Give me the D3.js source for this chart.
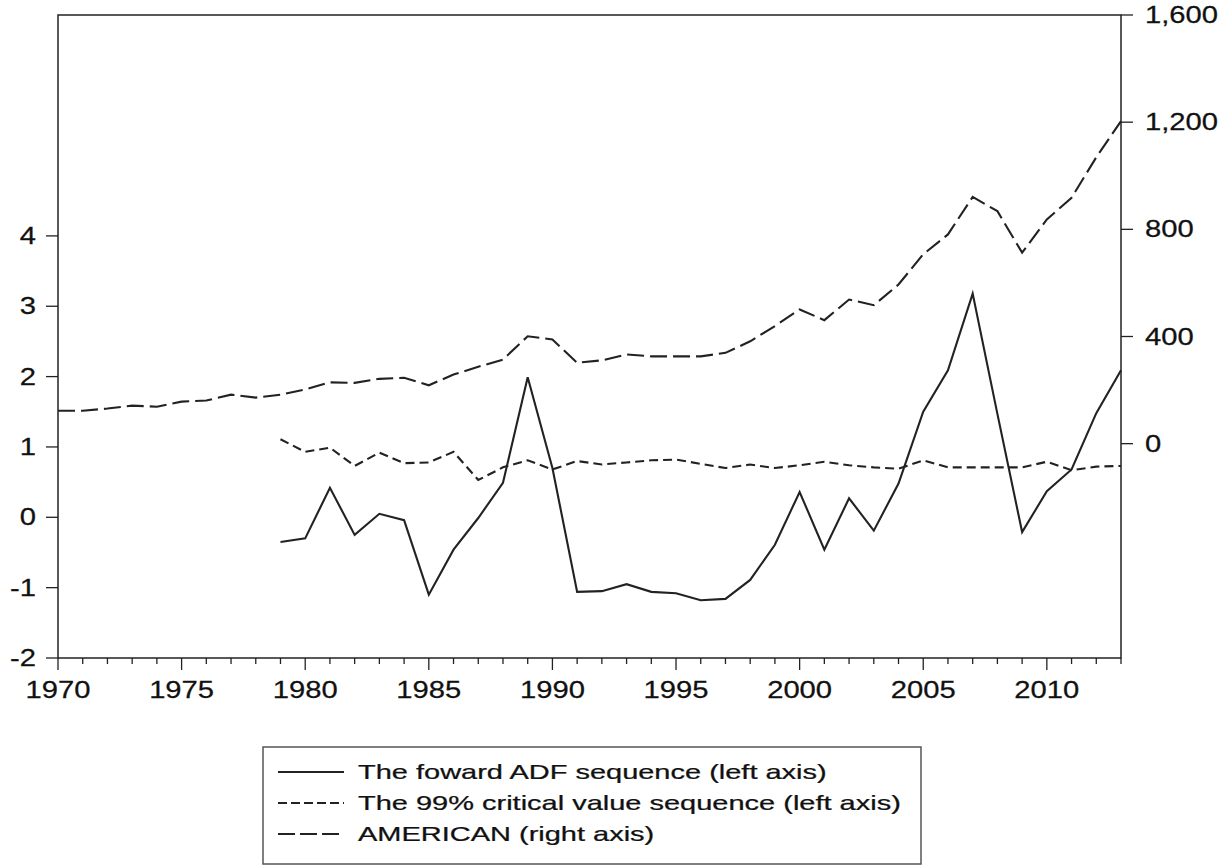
<!DOCTYPE html>
<html><head><meta charset="utf-8">
<script src="https://cdn.jsdelivr.net/npm/d3@7"></script>
<style>body{margin:0;background:#fff}text{font-family:"Liberation Sans",Arial,Helvetica,sans-serif;fill:#111;stroke:#111;stroke-width:0.25px}</style>
</head><body><svg id="c" width="1228" height="865"></svg>
<script>
const years = [1970,1971,1972,1973,1974,1975,1976,1977,1978,1979,1980,1981,1982,1983,1984,1985,1986,1987,1988,1989,1990,1991,1992,1993,1994,1995,1996,1997,1998,1999,2000,2001,2002,2003,2004,2005,2006,2007,2008,2009,2010,2011,2012,2013];
const american = [123,123,131,142,138,157,161,183,172,183,202,229,227,242,246,218,258,287,314,401,389,302,311,333,326,326,326,339,382,439,501,461,538,517,594,707,781,921,868,713,837,918,1069,1204];
const testYears = [1979,1980,1981,1982,1983,1984,1985,1986,1987,1988,1989,1990,1991,1992,1993,1994,1995,1996,1997,1998,1999,2000,2001,2002,2003,2004,2005,2006,2007,2008,2009,2010,2011,2012,2013];
const adf = [-0.35,-0.30,0.42,-0.25,0.05,-0.04,-1.10,-0.46,-0.01,0.49,1.99,0.70,-1.06,-1.05,-0.95,-1.06,-1.08,-1.18,-1.16,-0.89,-0.39,0.36,-0.46,0.27,-0.19,0.48,1.50,2.09,3.18,1.47,-0.21,0.37,0.68,1.48,2.09];
const critical = [1.11,0.93,0.99,0.73,0.92,0.77,0.78,0.93,0.53,0.71,0.81,0.68,0.80,0.75,0.78,0.81,0.82,0.76,0.70,0.75,0.70,0.74,0.79,0.74,0.71,0.69,0.81,0.71,0.71,0.71,0.71,0.79,0.67,0.72,0.73];
const majorYears = [1970,1975,1980,1985,1990,1995,2000,2005,2010];
const leftTicks = [-2,-1,0,1,2,3,4];
const rightTicks = [0,400,800,1200,1600];
const legendLabels = ["The foward ADF sequence (left axis)","The 99% critical value sequence (left axis)","AMERICAN (right axis)"];

const svg = d3.select("#c");
const L = 58, R = 1121, T = 15, B = 658;
const x = d3.scaleLinear().domain([1970, 2013]).range([L, R]);
const yL = d3.scaleLinear().domain([-2, 7.14]).range([B, T]);
const yR = d3.scaleLinear().domain([-800, 1600]).range([B, T]);
const SX = 1.27, FS = 23;

// frame
svg.append("rect").attr("x", L).attr("y", T).attr("width", R - L).attr("height", B - T)
  .attr("fill", "none").attr("stroke", "#222").attr("stroke-width", 1.5);

// bottom axis ticks
const gx = svg.append("g");
gx.selectAll("line").data(years).join("line")
  .attr("x1", d => x(d)).attr("x2", d => x(d)).attr("y1", B).attr("y2", d => majorYears.includes(d) ? B + 12 : B + 6)
  .attr("stroke", "#222").attr("stroke-width", 1.3);
gx.selectAll("g.lab").data(majorYears).join("g")
  .attr("transform", d => `translate(${x(d)},${B + 40}) scale(${SX},1)`)
  .append("text").attr("text-anchor", "middle").attr("font-size", FS).text(d => d);

// left axis
const gl = svg.append("g");
gl.selectAll("line").data(leftTicks).join("line")
  .attr("x1", L - 12).attr("x2", L).attr("y1", d => yL(d)).attr("y2", d => yL(d))
  .attr("stroke", "#222").attr("stroke-width", 1.3);
gl.selectAll("g").data(leftTicks).join("g")
  .attr("transform", d => `translate(${L - 22},${yL(d) + 8}) scale(${SX},1)`)
  .append("text").attr("text-anchor", "end").attr("font-size", FS).text(d => d);

// right axis
const gr = svg.append("g");
gr.selectAll("line").data(rightTicks).join("line")
  .attr("x1", R).attr("x2", R + 12).attr("y1", d => yR(d)).attr("y2", d => yR(d))
  .attr("stroke", "#222").attr("stroke-width", 1.3);
gr.selectAll("g").data(rightTicks).join("g")
  .attr("transform", d => `translate(${R + 24},${yR(d) + 8}) scale(${SX},1)`)
  .append("text").attr("text-anchor", "start").attr("font-size", FS).text(d => d3.format(",")(d));

// lines
const lineL = d3.line().x(d => x(d[0])).y(d => yL(d[1]));
const lineR = d3.line().x(d => x(d[0])).y(d => yR(d[1]));
svg.append("path").datum(years.map((y, i) => [y, american[i]])).attr("d", lineR)
  .attr("fill", "none").attr("stroke", "#222").attr("stroke-width", 2.1).attr("stroke-dasharray", "17,6");
svg.append("path").datum(testYears.map((y, i) => [y, critical[i]])).attr("d", lineL)
  .attr("fill", "none").attr("stroke", "#222").attr("stroke-width", 2.1).attr("stroke-dasharray", "9,5");
svg.append("path").datum(testYears.map((y, i) => [y, adf[i]])).attr("d", lineL)
  .attr("fill", "none").attr("stroke", "#222").attr("stroke-width", 2.1);

// legend
const lg = svg.append("g");
lg.append("rect").attr("x", 263).attr("y", 747).attr("width", 658).attr("height", 117)
  .attr("fill", "#fff").attr("stroke", "#555").attr("stroke-width", 1.5);
const dashes = [null, "9,4", "17,5"];
legendLabels.forEach((t, i) => {
  const cy = 772 + i * 31;
  lg.append("line").attr("x1", 278).attr("x2", 344).attr("y1", cy).attr("y2", cy)
    .attr("stroke", "#222").attr("stroke-width", 1.8).attr("stroke-dasharray", dashes[i]);
  lg.append("g").attr("transform", `translate(358,${cy + 7}) scale(1.45,1)`)
    .append("text").attr("font-size", 20).text(t);
});
</script></body></html>
